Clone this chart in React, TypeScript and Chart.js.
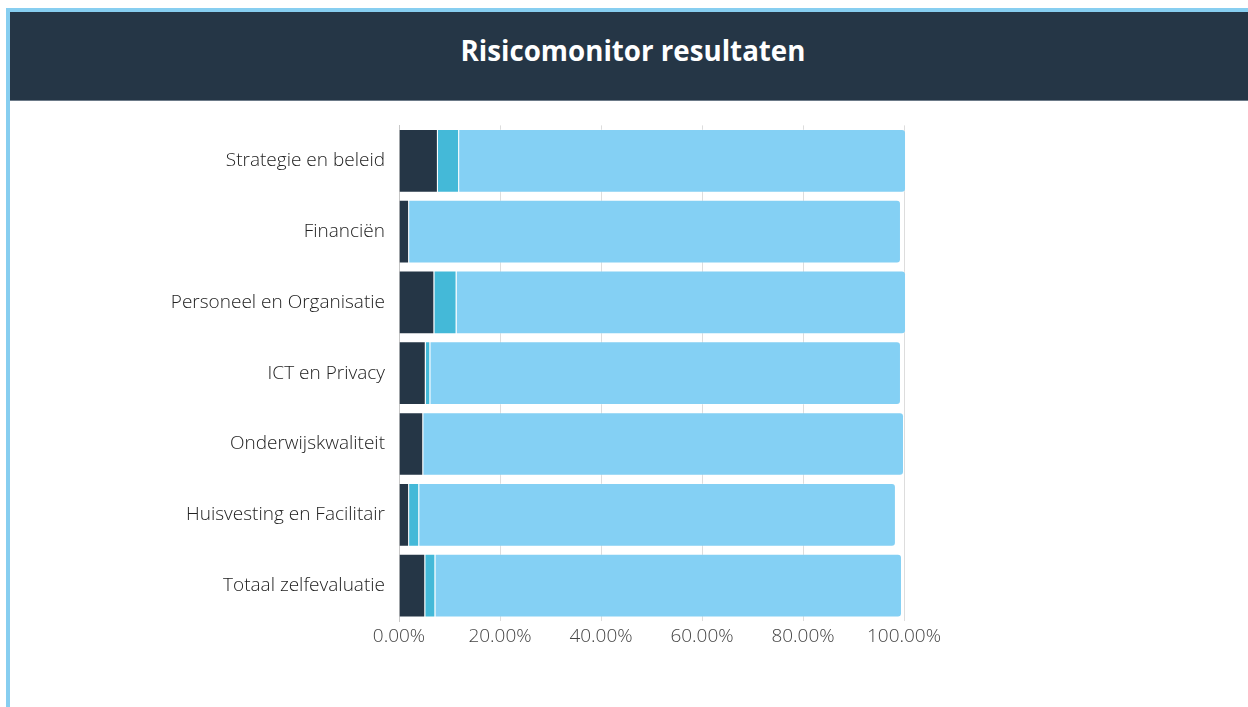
import React, { useEffect, useRef } from "react";
import { Chart, registerables } from "chart.js";

Chart.register(...registerables);

const categories = [
  "Strategie en beleid",
  "Financiën",
  "Personeel en Organisatie",
  "ICT en Privacy",
  "Onderwijskwaliteit",
  "Huisvesting en Facilitair",
  "Totaal zelfevaluatie",
];
const seriesDark = [7.7, 2.0, 7.0, 5.3, 4.8, 2.0, 5.2];
const seriesMid = [4.2, 0, 4.4, 0.9, 0, 2.0, 2.0];
const seriesLight = [88.5, 97.4, 89.0, 93.2, 95.2, 94.4, 92.4];
const xTicks = [0, 20, 40, 60, 80, 100];

const FONT = "'Open Sans', sans-serif";

export default function App() {
  const ref = useRef<HTMLCanvasElement | null>(null);

  useEffect(() => {
    if (!ref.current) return;
    const mk = (label: string, data: number[], color: string) => ({
      label,
      data,
      backgroundColor: color,
      borderColor: "rgba(255,255,255,0.25)",
      borderWidth: 1,
      borderRadius: 4,
      barPercentage: 0.9,
      categoryPercentage: 1,
      clip: false as any,
    });
    const chart = new Chart(ref.current, {
      type: "bar",
      data: {
        labels: categories,
        datasets: [
          mk("Hoog", seriesDark, "#253646"),
          mk("Midden", seriesMid, "#44b9d8"),
          mk("Laag", seriesLight, "#84d0f4"),
        ],
      },
      options: {
        indexAxis: "y",
        animation: false,
        responsive: false,
        layout: { padding: { top: 21, right: 344, left: 0, bottom: 0 } },
        plugins: { legend: { display: false }, tooltip: { enabled: false } },
        scales: {
          x: {
            stacked: true,
            min: 0,
            max: 100,
            afterBuildTicks: (scale: any) => {
              scale.ticks = xTicks.map((v) => ({ value: v }));
            },
            afterFit: (scale: any) => {
              scale.height = 86;
            },
            grid: { color: "#dddddd", drawTicks: false },
            border: { display: false },
            ticks: {
              padding: 4,
              color: "#444444",
              font: { family: FONT, size: 19, weight: 300 as any },
              callback: (v: any) => Number(v).toFixed(2) + "%",
            },
          },
          y: {
            stacked: true,
            afterFit: (scale: any) => {
              scale.width = 389;
            },
            grid: { display: false, drawTicks: false },
            border: { display: true, color: "#c8c8c8" },
            ticks: {
              padding: 14,
              color: "#222222",
              font: { family: FONT, size: 19, weight: 300 as any },
            },
          },
        },
      },
    });
    return () => chart.destroy();
  }, []);

  return (
    <div style={{ position: "fixed", inset: 0, overflow: "hidden", background: "#fff" }}>
      <div
        style={{
          position: "absolute",
          left: 6,
          top: 8,
          width: 1246,
          height: 720,
          borderLeft: "4px solid #87cef0",
          borderTop: "4px solid #87cef0",
        }}
      >
        <div
          style={{
            height: 76,
            paddingBottom: 12,
            background: "#253646",
            borderBottom: "1px solid #6c7a88",
            display: "flex",
            alignItems: "center",
            justifyContent: "center",
            color: "#ffffff",
            fontFamily: FONT,
            fontWeight: 700,
            fontSize: 27.7,
          }}
        >
          Risicomonitor resultaten
        </div>
      </div>
      <div style={{ position: "absolute", left: 10, top: 100, width: 1238, height: 607 }}>
        <canvas ref={ref} width={1238} height={607} style={{ display: "block" }} />
      </div>
    </div>
  );
}
